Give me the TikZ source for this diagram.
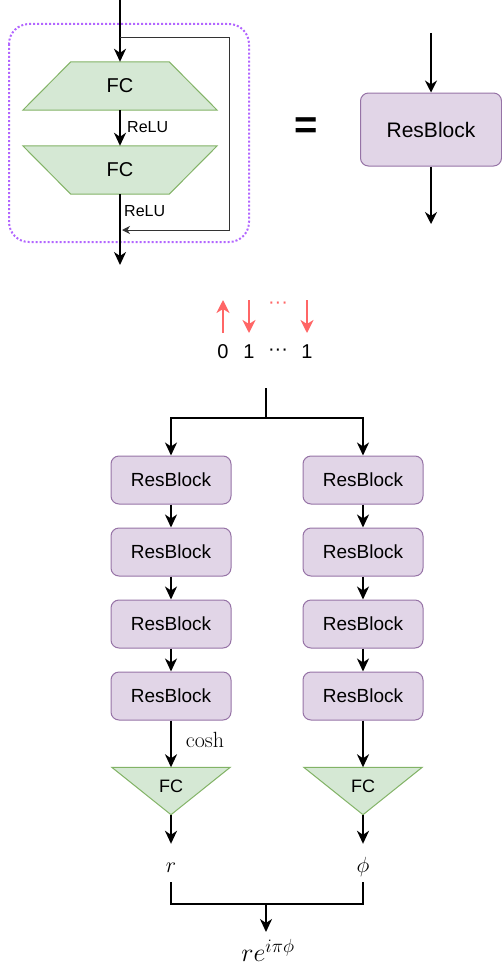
\RequirePackage{fix-cm}
\documentclass[tikz,border=0pt]{standalone}
\usepackage[no-math]{fontspec}
\setmainfont{Liberation Sans}
\usepackage{amsmath}
\DeclareMathSizes{22}{22}{16}{12}
\DeclareMathSizes{26}{26}{19}{14}
\usetikzlibrary{arrows.meta,positioning}
\definecolor{blockfill}{HTML}{E1D5E7}
\definecolor{blockline}{HTML}{9673A6}
\definecolor{fcfill}{HTML}{D5E8D4}
\definecolor{fcline}{HTML}{82B366}
\definecolor{framecol}{HTML}{B266FF}
\definecolor{spincol}{HTML}{FF6666}
% FC shapes drawn on the frame of an empty node
\newcommand{\fcbottom}[1]{\filldraw[fill=fcfill, draw=fcline, line width=1pt] ([xshift=48pt]#1.north west) -- ([xshift=-48pt]#1.north east) -- (#1.south east) -- (#1.south west) -- cycle;}
\newcommand{\fctop}[1]{\filldraw[fill=fcfill, draw=fcline, line width=1pt] (#1.north west) -- (#1.north east) -- ([xshift=-48pt]#1.south east) -- ([xshift=48pt]#1.south west) -- cycle;}
\newcommand{\fctri}[1]{\filldraw[fill=fcfill, draw=fcline, line width=1pt] (#1.north west) -- (#1.north east) -- (#1.south) -- cycle;}

\begin{document}
\begin{tikzpicture}[
    x=1pt, y=-1pt,
    arr/.style={line width=2pt, -{Stealth[length=13pt,width=12pt,inset=4pt]}},
    thinarr/.style={line width=1.5pt, -{Stealth[length=12pt,width=12pt,inset=4pt]}},
    skiparr/.style={line width=1pt, draw=black!80, -{Stealth[length=8pt,width=8pt,inset=2.5pt]}},
    spin/.style={line width=2pt, draw=spincol, -{Stealth[length=13pt,width=13pt,inset=4pt]}},
    resblock/.style={draw=blockline, fill=blockfill, line width=1pt, rounded corners=8pt,
      minimum width=120pt, minimum height=48pt, font=\fontsize{19}{22}\selectfont},
    fcbox/.style={minimum width=194pt, minimum height=48pt, inner sep=0pt},
    tribox/.style={minimum width=118pt, minimum height=47pt, inner sep=0pt},
    lbl/.style={font=\fontsize{16}{19}\selectfont, inner sep=0pt, anchor=west},
    mathlbl/.style={font=\fontsize{22}{26}\selectfont, inner sep=0pt},
    num/.style={font=\fontsize{20}{24}\selectfont, inner sep=0pt}
  ]
  \useasboundingbox (0,0) rectangle (502,966);

  % residual block, unrolled
  \draw[framecol, line width=2pt, dash pattern=on 2pt off 2pt, rounded corners=20pt] (9,24) rectangle (249,242);
  \coordinate (in) at (120,0);
  \coordinate (skip) at (120,38);
  \coordinate (back) at (122,230);
  \coordinate (out) at (120,265);
  \node[fcbox] (fc1) at (120,86) {};
  \fcbottom{fc1}
  \node[num] (fc1t) at (fc1) {FC};
  \node[fcbox] (fc2) at (120,170) {};
  \fctop{fc2}
  \node[num] (fc2t) at (fc2) {FC};
  \draw[arr] (in) -- (fc1.north);
  \draw[arr] (fc1.south) -- (fc2.north);
  \draw[arr] (fc2.south) -- (out);
  \draw[skiparr] (skip) -- ++(109,0) |- (back);
  \node[lbl] (relu1) at (127,127) {ReLU};
  \node[lbl] (relu2) at (124,211) {ReLU};

  \node[font=\fontsize{40}{48}\selectfont\bfseries] (eq) at (306,128) {=};

  % the same block as one box
  \node[resblock, minimum width=141pt, minimum height=73pt, font=\fontsize{21}{25}\selectfont] (rb) at (431,129.5) {ResBlock};
  \coordinate (rbin) at (431,33);
  \coordinate (rbout) at (431,224);
  \draw[thinarr] (rbin) -- (rb);
  \draw[thinarr] (rb) -- (rbout);

  % spin configuration
  \foreach \x/\t [count=\i] in {223/0, 249/1, 278/{···}, 307/1}
    \node[num] (s\i) at (\x,352) {\t};
  \draw[spin] (223,333) -- (223,300);
  \foreach \x in {249,307}
    \draw[spin] (\x,300) -- (\x,333);
  \node[num, text=spincol] (dots) at (278,305) {···};

  % two branches
  \foreach \c/\x in {L/171, R/363} {
    \foreach \i in {1,...,4}
      \node[resblock] (\c\i) at (\x,{480+72*(\i-1)}) {ResBlock};
    \foreach \i/\j in {1/2,2/3,3/4}
      \draw[arr] (\c\i) -- (\c\j);
    \node[tribox] (fc\c) at (\x,791) {};
    \fctri{fc\c}
    \node[font=\fontsize{18}{22}\selectfont, inner sep=0pt] (fct\c) at ([yshift=5pt]fc\c.center) {FC};
    \draw[arr] (\c4) -- (fc\c.north);
  }
  \coordinate (split) at (266,388);
  \draw[arr] (split) -- ++(0,30) -| (L1);
  \draw[arr] (split) -- ++(0,30) -| (R1);
  \node[mathlbl] (cosh) at (205,740) {$\cosh$};

  % outputs
  \node[mathlbl, minimum height=38pt, text height=20pt, text depth=2pt] (rr) at (171,863) {$r$};
  \node[mathlbl, minimum height=38pt, text height=20pt, text depth=2pt] (phi) at (363,863) {$\phi$};
  \draw[arr] (fcL.south) -- (rr.north);
  \draw[arr] (fcR.south) -- (phi.north);
  \coordinate (join) at (266,904);
  \node[mathlbl, font=\fontsize{26}{30}\selectfont, anchor=north, outer sep=7pt] (res) at (268,932) {$re^{i\pi\phi}$};
  \draw[line width=2pt] (rr.south) |- (join) -| (phi.south);
  \draw[arr] (join) -- (res.north -| join);
\end{tikzpicture}
\end{document}
